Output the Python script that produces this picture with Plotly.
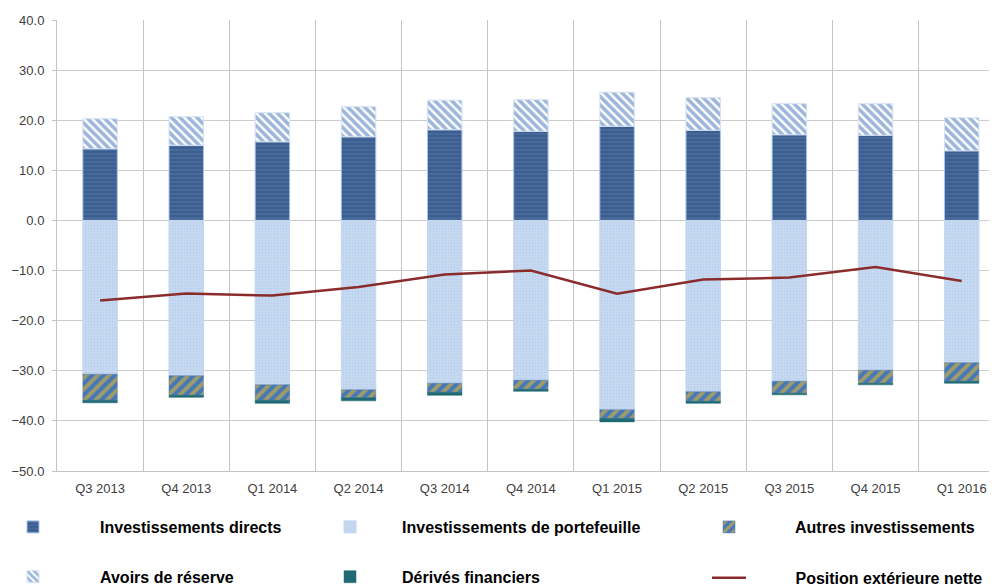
import plotly.graph_objects as go

categories = ["Q3 2013", "Q4 2013", "Q1 2014", "Q2 2014", "Q3 2014", "Q4 2014",
              "Q1 2015", "Q2 2015", "Q3 2015", "Q4 2015", "Q1 2016"]
inv_directs = [14.3, 15.0, 15.7, 16.7, 18.1, 17.8, 18.8, 18.0, 17.1, 17.0, 13.9]
avoirs_reserve = [6.0, 5.7, 5.8, 6.0, 5.9, 6.3, 6.8, 6.5, 6.2, 6.3, 6.6]
inv_portefeuille = [-30.7, -31.0, -32.8, -33.8, -32.5, -31.9, -37.8, -34.2, -32.1, -29.9, -28.4]
autres_inv = [-5.2, -3.9, -3.1, -1.6, -1.8, -1.8, -1.7, -1.9, -2.4, -2.6, -3.7]
derives = [-0.5, -0.4, -0.6, -0.6, -0.6, -0.4, -0.7, -0.4, -0.3, -0.3, -0.4]
position_nette = [-16.0, -14.6, -15.0, -13.3, -10.8, -10.0, -14.6, -11.8, -11.4, -9.3, -12.1]
y_ticks = [40, 30, 20, 10, 0, -10, -20, -30, -40, -50]

# page is rendered with an 8px body margin
W, H = 989, 578
BARW = 0.4
edge = dict(color="#A9C4EA", width=1)
NB = "\u00a0"

fig = go.Figure()
fig.add_trace(go.Bar(
    x=categories, y=inv_directs, name="Investissements directs", width=BARW,
    marker=dict(color="#3C5E8F", line=edge,
                pattern=dict(shape="-", fgcolor="#6A8CC0", bgcolor="#3C5E8F", size=4, solidity=0.25)),
    legend="legend", legendgroup="a"))
fig.add_trace(go.Bar(
    x=categories, y=inv_portefeuille, name="Investissements de portefeuille", width=BARW,
    marker=dict(color="#C3D6EF", line=dict(color="#C3D6EF", width=1),
                pattern=dict(shape=".", fgcolor="#A8C2E6", bgcolor="#C8DAF1", size=3, solidity=0.3)),
    legend="legend2", legendgroup="b"))
fig.add_trace(go.Bar(
    x=categories, y=autres_inv, name="Autres investissements", width=BARW,
    marker=dict(color="#4677B8", line=dict(color="#4677B8", width=0.5),
                pattern=dict(shape="/", fgcolor="#F5C21A", bgcolor="#4677B8", size=8, solidity=0.5)),
    legend="legend3", legendgroup="c"))
fig.add_trace(go.Bar(
    x=categories, y=avoirs_reserve, name="Avoirs de réserve", width=BARW,
    marker=dict(color="#FFFFFF", line=dict(color="#D5E1F2", width=1),
                pattern=dict(shape="\\", fgcolor="#3A6DB5", bgcolor="#FFFFFF", size=6, solidity=0.6)),
    legend="legend", legendgroup="d"))
fig.add_trace(go.Bar(
    x=categories, y=derives, name="Dérivés financiers", width=BARW,
    marker=dict(color="#1F6A74", line=dict(color="#1F6A74", width=0.5)),
    legend="legend2", legendgroup="e"))
fig.add_trace(go.Scatter(
    x=categories, y=position_nette, name=NB * 10 + "Position extérieure nette", mode="lines",
    line=dict(color="#8B2C2C", width=2.5),
    legend="legend4", legendgroup="f"))

legend_font = dict(family="Liberation Sans", size=16, color="#000000", weight="bold")
def leg(x, iw, y=-0.0865):
    return dict(x=x, y=y, xanchor="left", yanchor="top", orientation="v",
                font=legend_font, itemwidth=iw, tracegroupgap=26,
                bgcolor="rgba(0,0,0,0)", traceorder="grouped", itemclick=False,
                borderwidth=0)

fig.update_layout(
    width=W, height=H,
    margin=dict(l=49, r=0, t=12, b=115, autoexpand=False),
    paper_bgcolor="white", plot_bgcolor="white",
    barmode="relative",
    showlegend=True,
    legend=leg(-0.0968, 124),
    legend2=leg(0.2564, 94),
    legend3=leg(0.6447, 122),
    legend4=leg(0.6915, 34, y=-0.199),
    xaxis=dict(type="category", range=[-0.5, 10.41], tickson="boundaries",
               showgrid=True, gridcolor="#C4C4C4", gridwidth=1, ticks="",
               showline=True, linecolor="#C4C4C4", linewidth=1,
               ticklabelstandoff=5,
               tickfont=dict(family="Liberation Sans", size=13, color="#404040")),
    yaxis=dict(range=[-50, 40], tickvals=y_ticks, tickformat=".1f",
               showgrid=True, gridcolor="#CCCCCC", gridwidth=1, zeroline=False,
               showline=True, linecolor="#C4C4C4",
               ticks="outside", ticklen=4, tickcolor="#C4C4C4",
               ticklabelstandoff=5,
               tickfont=dict(family="Liberation Sans", size=13, color="#404040")),
    font=dict(family="Liberation Sans"),
)

fig.write_html("out.html")
